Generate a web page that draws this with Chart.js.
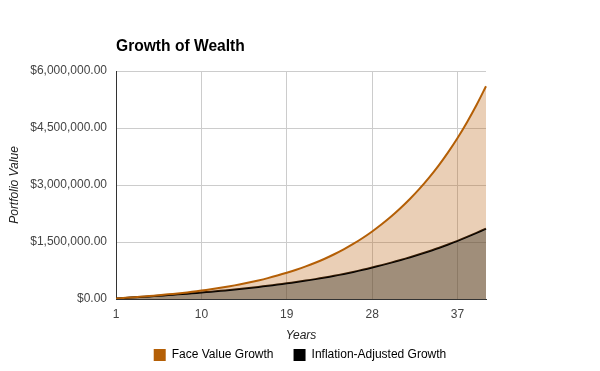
<!DOCTYPE html>
<html>
<head>
<meta charset="utf-8">
<script src="https://cdn.jsdelivr.net/npm/chart.js@4"></script>
<style>
  html, body { margin: 0; padding: 0; background: #fff; }
  #wrap { width: 600px; height: 371px; }
</style>
</head>
<body>
<div id="wrap"><canvas id="c" width="600" height="371"></canvas></div>
<script>
const chartTitle = 'Growth of Wealth';
const xAxisTitle = 'Years';
const yAxisTitle = 'Portfolio Value';
const years = [1,2,3,4,5,6,7,8,9,10,11,12,13,14,15,16,17,18,19,20,21,22,23,24,25,26,27,28,29,30,31,32,33,34,35,36,37,38,39,40];
const faceValueGrowth = [14000, 30000, 47000, 66000, 87000, 110000, 134000, 160000, 189000, 221000,
  256000, 294000, 336000, 382000, 433000, 489000, 550000, 617000, 690000, 770000,
  858000, 954000, 1060000, 1178000, 1307000, 1449000, 1606000, 1778000, 1967000, 2171000,
  2395000, 2639000, 2905000, 3196000, 3512000, 3860000, 4238000, 4654000, 5105000, 5600000];
const inflationAdjustedGrowth = [14000, 29200, 44400, 60600, 77600, 95300, 112900, 131000, 150400, 170900,
  192300, 214700, 238400, 263400, 290200, 318500, 348100, 379500, 412400, 447300,
  484300, 523300, 565100, 610300, 660000, 713000, 769000, 829000, 892000, 957000,
  1026000, 1099000, 1176000, 1258000, 1343000, 1435000, 1531000, 1634000, 1742000, 1850000];
const seriesNames = ['Face Value Growth', 'Inflation-Adjusted Growth'];
const xTickLabels = ['1', '10', '19', '28', '37'];
const yTickValues = [0, 1500000, 3000000, 4500000, 6000000];

const FONT = 'Arial, "Liberation Sans", sans-serif';
const fmtMoney = v => '$' + Number(v).toLocaleString('en-US', {minimumFractionDigits: 2, maximumFractionDigits: 2});

const titlePlugin = {
  id: 'customTitle',
  afterDraw(chart) {
    const ctx = chart.ctx;
    ctx.save();
    ctx.font = 'bold 15.6px ' + FONT;
    ctx.fillStyle = '#000';
    ctx.textAlign = 'left';
    ctx.textBaseline = 'alphabetic';
    ctx.fillText(chartTitle, chart.chartArea.left, 51);
    ctx.restore();
  }
};

new Chart(document.getElementById('c'), {
  type: 'line',
  data: {
    labels: years.map(String),
    datasets: [
      {
        label: seriesNames[0],
        data: faceValueGrowth,
        borderColor: '#b45f06',
        backgroundColor: 'rgba(184,96,12,0.3)',
        borderWidth: 2,
        pointRadius: 0,
        tension: 0.3,
        fill: 1
      },
      {
        label: seriesNames[1],
        data: inflationAdjustedGrowth,
        borderColor: '#000000',
        backgroundColor: 'rgba(97,67,33,0.6)',
        borderWidth: 2,
        pointRadius: 0,
        tension: 0.3,
        fill: 'origin'
      }
    ]
  },
  options: {
    responsive: false,
    animation: false,
    devicePixelRatio: 1,
    layout: { padding: { left: 0, right: 0, top: 71, bottom: 0 } },
    plugins: {
      title: { display: false },
      tooltip: { enabled: false },
      legend: {
        position: 'bottom',
        labels: {
          boxWidth: 12,
          boxHeight: 12,
          padding: 20,
          color: '#222',
          font: { family: FONT, size: 12 },
          generateLabels: chart => chart.data.datasets.map((d, i) => ({
            text: d.label,
            fillStyle: d.borderColor,
            strokeStyle: d.borderColor,
            lineWidth: 0,
            hidden: false,
            datasetIndex: i
          }))
        }
      }
    },
    scales: {
      x: {
        type: 'category',
        offset: false,
        border: { display: true, color: '#333', width: 1 },
        grid: {
          drawTicks: false,
          color: c => (c.tick && xTickLabels.includes(years[c.index] + '') && c.index !== 0) ? '#cccccc' : 'rgba(0,0,0,0)'
        },
        ticks: {
          autoSkip: false,
          maxRotation: 0,
          padding: 8,
          color: '#444',
          font: { family: FONT, size: 12 },
          callback: function(v, i) { const l = String(years[i]); return xTickLabels.includes(l) ? l : ''; }
        },
        title: {
          display: true,
          text: xAxisTitle,
          color: '#222',
          font: { family: FONT, size: 12, style: 'italic' },
          padding: { top: 4, bottom: -14 }
        },
        afterFit: s => { s.height = 30; }
      },
      y: {
        min: yTickValues[0],
        max: yTickValues[yTickValues.length - 1],
        border: { display: true, color: '#333', width: 1 },
        grid: { drawTicks: false, color: '#cccccc' },
        afterBuildTicks: s => { s.ticks = yTickValues.map(v => ({ value: v })); },
        ticks: {
          padding: 9,
          color: '#444',
          font: { family: FONT, size: 12 },
          callback: v => fmtMoney(v)
        },
        title: {
          display: true,
          text: yAxisTitle,
          color: '#222',
          font: { family: FONT, size: 12, style: 'italic' },
          padding: { top: 7, bottom: 0 }
        },
        afterFit: s => { s.width = 116; }
      },
      spacerRight: {
        type: 'linear',
        position: 'right',
        display: true,
        grid: { display: false, drawOnChartArea: false },
        border: { display: false },
        ticks: { display: false },
        title: { display: false },
        afterFit: s => { s.width = 114; }
      }
    }
  },
  plugins: [titlePlugin]
});
</script>
</body>
</html>
